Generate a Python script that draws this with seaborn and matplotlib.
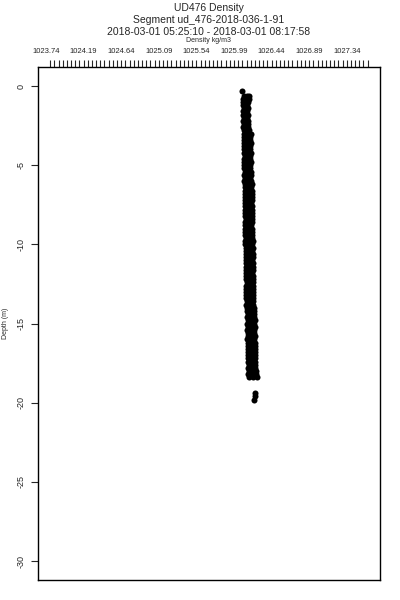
import numpy as np
import pandas as pd
import matplotlib
matplotlib.use("Agg")
import matplotlib.pyplot as plt
import seaborn as sns

# ---- data ----
depth = [-0.6, -0.8, -1.0, -1.2, -1.4, -1.6, -1.8, -2.0, -2.2, -2.4,
         -2.6, -2.8, -3.0, -3.2, -3.4, -3.6, -3.8, -4.0, -4.2, -4.4,
         -4.6, -4.8, -5.0, -5.2, -5.4, -5.6, -5.8, -6.0, -6.2, -6.4,
         -6.6, -6.8, -7.0, -7.2, -7.4, -7.6, -7.8, -8.0, -8.2, -8.4,
         -8.6, -8.8, -9.0, -9.2, -9.4, -9.6, -9.8, -10.0, -10.2, -10.4,
         -10.6, -10.8, -11.0, -11.2, -11.4, -11.6, -11.8, -12.0, -12.2, -12.4,
         -12.6, -12.8, -13.0, -13.2, -13.4, -13.6, -13.8, -14.0, -14.2, -14.4,
         -14.6, -14.8, -15.0, -15.2, -15.4, -15.6, -15.8, -16.0, -16.2, -16.4,
         -16.6, -16.8, -17.0, -17.2, -17.4, -17.6, -17.8, -18.0, -18.2, -18.4]

dens_left = [1026.104, 1026.100, 1026.098, 1026.096, 1026.104, 1026.100, 1026.098, 1026.106, 1026.102, 1026.108,
             1026.100, 1026.108, 1026.112, 1026.106, 1026.110, 1026.114, 1026.108, 1026.112, 1026.106, 1026.116,
             1026.110, 1026.114, 1026.108, 1026.112, 1026.118, 1026.110, 1026.116, 1026.114, 1026.120, 1026.124,
             1026.118, 1026.126, 1026.122, 1026.118, 1026.126, 1026.122, 1026.116, 1026.124, 1026.120, 1026.128,
             1026.122, 1026.118, 1026.126, 1026.124, 1026.120, 1026.128, 1026.122, 1026.126, 1026.132, 1026.128,
             1026.136, 1026.130, 1026.134, 1026.128, 1026.138, 1026.132, 1026.136, 1026.130, 1026.134, 1026.140,
             1026.132, 1026.136, 1026.130, 1026.138, 1026.134, 1026.140, 1026.136, 1026.142, 1026.148, 1026.152,
             1026.146, 1026.154, 1026.150, 1026.156, 1026.148, 1026.152, 1026.158, 1026.150, 1026.154, 1026.160,
             1026.152, 1026.156, 1026.162, 1026.154, 1026.158, 1026.164, 1026.160, 1026.166, 1026.162, 1026.170]

dens_mid = [1026.140, 1026.150, 1026.128, 1026.120, 1026.126, 1026.118, 1026.124, 1026.130, 1026.122, 1026.134,
            1026.128, 1026.140, 1026.146, 1026.150, 1026.138, 1026.152, 1026.144, 1026.156, 1026.146, 1026.150,
            1026.142, 1026.154, 1026.148, 1026.140, 1026.156, 1026.150, 1026.146, 1026.158, 1026.160, 1026.156,
            1026.164, 1026.160, 1026.152, 1026.166, 1026.158, 1026.162, 1026.156, 1026.168, 1026.160, 1026.154,
            1026.166, 1026.158, 1026.162, 1026.170, 1026.160, 1026.164, 1026.158, 1026.168, 1026.170, 1026.176,
            1026.168, 1026.174, 1026.166, 1026.178, 1026.172, 1026.168, 1026.176, 1026.170, 1026.180, 1026.174,
            1026.170, 1026.178, 1026.172, 1026.176, 1026.182, 1026.174, 1026.180, 1026.176, 1026.188, 1026.192,
            1026.186, 1026.196, 1026.190, 1026.194, 1026.188, 1026.198, 1026.192, 1026.196, 1026.190, 1026.200,
            1026.194, 1026.198, 1026.202, 1026.196, 1026.204, 1026.200, 1026.206, 1026.210, 1026.214, 1026.212]

dens_right = [1026.172, 1026.166, 1026.160, 1026.148, 1026.152, 1026.142, 1026.154, 1026.150, 1026.158, 1026.152,
              1026.162, 1026.172, 1026.188, 1026.182, 1026.178, 1026.192, 1026.186, 1026.180, 1026.190, 1026.184,
              1026.178, 1026.192, 1026.186, 1026.180, 1026.194, 1026.188, 1026.182, 1026.196, 1026.202, 1026.198,
              1026.206, 1026.200, 1026.208, 1026.202, 1026.198, 1026.210, 1026.204, 1026.200, 1026.206, 1026.202,
              1026.210, 1026.198, 1026.206, 1026.202, 1026.208, 1026.200, 1026.212, 1026.204, 1026.214, 1026.210,
              1026.218, 1026.212, 1026.208, 1026.216, 1026.214, 1026.220, 1026.210, 1026.216, 1026.218, 1026.212,
              1026.220, 1026.214, 1026.218, 1026.222, 1026.216, 1026.220, 1026.214, 1026.224, 1026.230, 1026.234,
              1026.228, 1026.236, 1026.232, 1026.238, 1026.228, 1026.234, 1026.240, 1026.232, 1026.238, 1026.242,
              1026.236, 1026.240, 1026.244, 1026.238, 1026.242, 1026.246, 1026.240, 1026.248, 1026.256, 1026.260]

# stray points above and below the main column
extra_depth = [-0.3, -19.4, -19.6, -19.8]
extra_dens = [1026.090, 1026.240, 1026.244, 1026.232]

tick_labels = ["1023.74", "1024.19", "1024.64", "1025.09", "1025.54",
               "1025.99", "1026.44", "1026.89", "1027.34"]
depth_ticks = [0, -5, -10, -15, -20, -25, -30]

# ---- build table ----
df = pd.DataFrame({
    "density": dens_left + dens_mid + dens_right + extra_dens,
    "depth": depth * 3 + extra_depth,
})

# ---- figure ----
sns.set_style("white")
plt.rcParams["font.family"] = ["Liberation Sans", "DejaVu Sans"]

fig = plt.figure(figsize=(4, 6), dpi=100)
ax = fig.add_axes([0.095, 0.0333, 0.855, 0.855])

sns.scatterplot(data=df, x="density", y="depth", color="black",
                s=19, linewidth=0, ax=ax, legend=False)

ax.set_xlim(1023.644, 1027.738)
ax.set_ylim(-31.2, 1.2)

# x axis on top: labels every 0.45, small ticks every 0.05
major = [float(t) for t in tick_labels]
ax.xaxis.tick_top()
ax.xaxis.remove_overlapping_locs = False
ax.set_xticks(major)
ax.set_xticklabels(tick_labels, fontsize=5.5)
ax.set_xticks([1023.79 + 0.05 * k for k in range(77)], minor=True)
ax.tick_params(axis="x", which="major", length=0, pad=9)
ax.tick_params(axis="x", which="minor", length=5, width=0.8, direction="out", top=True)
ax.set_xlabel("")

ax.set_yticks(depth_ticks)
ax.set_yticklabels([str(t) for t in depth_ticks], fontsize=6.5, rotation=90, va="center")
ax.tick_params(axis="y", which="major", length=5, width=0.8, direction="out", left=True, pad=4)
ax.set_ylabel("Depth (m)", fontsize=5)
ax.yaxis.set_label_coords(-0.085, 0.5)

for sp in ax.spines.values():
    sp.set_color("black")
    sp.set_linewidth(1.0)

# titles
cx = 0.5225
fig.text(cx, 1 - 8 / 600, "UD476 Density", ha="center", va="center", fontsize=7.5)
fig.text(cx, 1 - 20 / 600, "Segment ud_476-2018-036-1-91", ha="center", va="center", fontsize=7.5)
fig.text(cx, 1 - 32 / 600, "2018-03-01 05:25:10 - 2018-03-01 08:17:58", ha="center", va="center", fontsize=7.5)
fig.text(cx, 1 - 40 / 600, "Density kg/m3", ha="center", va="center", fontsize=5)

plt.savefig("out.png", dpi=100)
